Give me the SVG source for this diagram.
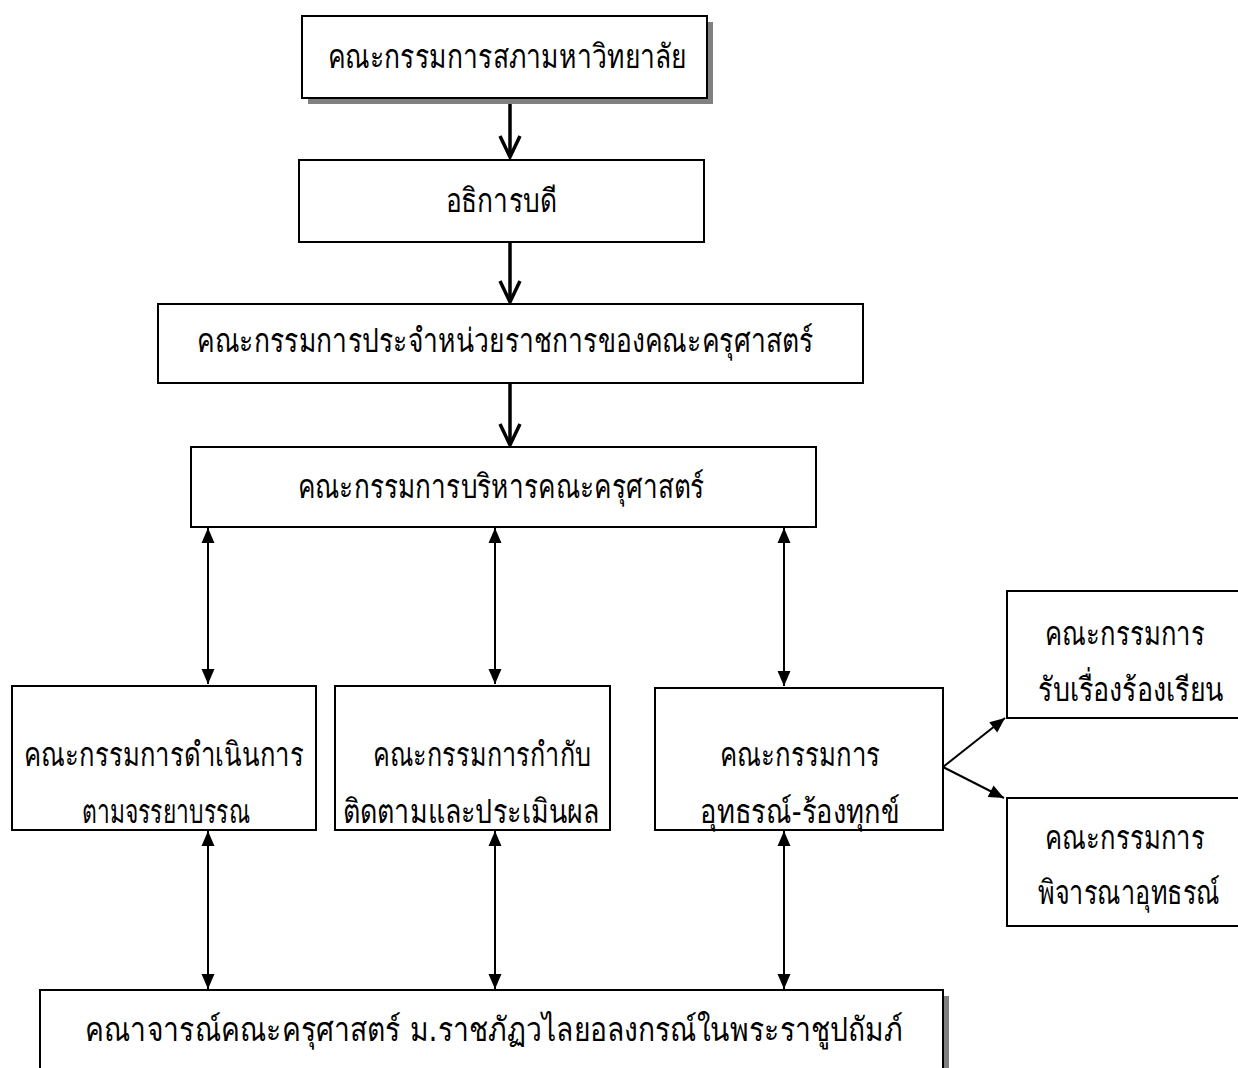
<svg xmlns="http://www.w3.org/2000/svg" width="1238" height="1068" viewBox="0 0 1238 1068">
<style>
.box{fill:#fff;stroke:#000;stroke-width:2}
.shadow{fill:#808080}
.t{font-family:"DejaVu Sans","Noto Sans",serif;font-size:33px;fill:#000;text-anchor:middle}
.e{text-anchor:end}
.thick{stroke:#000;stroke-width:3.5;fill:none}
.thin{stroke:#000;stroke-width:2;fill:none}
</style>
<defs>
<marker id="vopen" markerUnits="userSpaceOnUse" orient="auto" refX="0" refY="0" markerWidth="30" markerHeight="30" overflow="visible">
<path d="M-21,-10 L0,0 L-21,10" fill="none" stroke="#000" stroke-width="3.5"/>
</marker>
<marker id="tri" markerUnits="userSpaceOnUse" orient="auto-start-reverse" refX="0" refY="0" markerWidth="20" markerHeight="20" overflow="visible">
<path d="M0,0 L-15,-6.5 L-15,6.5 Z" fill="#000"/>
</marker>
</defs>
<rect width="1238" height="1068" fill="#fff"/>

<g id="connectors">
<line class="thick" x1="510" y1="98" x2="510" y2="157" marker-end="url(#vopen)"/>
<line class="thick" x1="510" y1="242" x2="510" y2="302" marker-end="url(#vopen)"/>
<line class="thick" x1="510" y1="383" x2="510" y2="445" marker-end="url(#vopen)"/>
<line class="thin" x1="208" y1="528" x2="208" y2="684" marker-start="url(#tri)" marker-end="url(#tri)"/>
<line class="thin" x1="495" y1="528" x2="495" y2="684" marker-start="url(#tri)" marker-end="url(#tri)"/>
<line class="thin" x1="784" y1="528" x2="784" y2="686" marker-start="url(#tri)" marker-end="url(#tri)"/>
<line class="thin" x1="208" y1="831" x2="208" y2="989" marker-start="url(#tri)" marker-end="url(#tri)"/>
<line class="thin" x1="495" y1="831" x2="495" y2="989" marker-start="url(#tri)" marker-end="url(#tri)"/>
<line class="thin" x1="784" y1="831" x2="784" y2="989" marker-start="url(#tri)" marker-end="url(#tri)"/>
<line class="thin" x1="943" y1="767" x2="1005" y2="718" marker-end="url(#tri)"/>
<line class="thin" x1="943" y1="767" x2="1004" y2="798" marker-end="url(#tri)"/>
</g>

<g id="n1">
<rect class="shadow" x="308" y="22" width="405" height="82"/>
<rect class="box" x="302" y="16" width="405" height="82"/>
<text class="t" x="507" y="68" textLength="359" lengthAdjust="spacingAndGlyphs">คณะกรรมการสภามหาวิทยาลัย</text>
</g>
<g id="n2">
<rect class="box" x="299" y="160" width="405" height="82"/>
<text class="t" x="501" y="212" textLength="111" lengthAdjust="spacingAndGlyphs">อธิการบดี</text>
</g>
<g id="n3">
<rect class="box" x="158" y="304" width="705" height="79"/>
<text class="t" x="505" y="352" textLength="616" lengthAdjust="spacingAndGlyphs">คณะกรรมการประจำหน่วยราชการของคณะครุศาสตร์</text>
</g>
<g id="n4">
<rect class="box" x="191" y="447" width="625" height="80"/>
<text class="t" x="501" y="498" textLength="407" lengthAdjust="spacingAndGlyphs">คณะกรรมการบริหารคณะครุศาสตร์</text>
</g>
<g id="n5">
<rect class="box" x="12" y="686" width="304" height="144"/>
<text class="t" x="164" y="766" textLength="280" lengthAdjust="spacingAndGlyphs">คณะกรรมการดำเนินการ</text>
<text class="t" x="166" y="823" textLength="168" lengthAdjust="spacingAndGlyphs">ตามจรรยาบรรณ</text>
</g>
<g id="n6">
<rect class="box" x="335" y="686" width="275" height="144"/>
<text class="t" x="482" y="766" textLength="218" lengthAdjust="spacingAndGlyphs">คณะกรรมการกำกับ</text>
<text class="t" x="471" y="823" textLength="256" lengthAdjust="spacingAndGlyphs">ติดตามและประเมินผล</text>
</g>
<g id="n7">
<rect class="box" x="655" y="688" width="288" height="142"/>
<text class="t" x="800" y="766" textLength="161" lengthAdjust="spacingAndGlyphs">คณะกรรมการ</text>
<text class="t" x="800" y="823" textLength="200" lengthAdjust="spacingAndGlyphs">อุทธรณ์-ร้องทุกข์</text>
</g>
<g id="n8">
<path class="box" d="M1238,591 H1007 V718 H1238"/>
<text class="t e" x="1205" y="645" textLength="160" lengthAdjust="spacingAndGlyphs">คณะกรรมการ</text>
<text class="t e" x="1224" y="701" textLength="186" lengthAdjust="spacingAndGlyphs">รับเรื่องร้องเรียน</text>
</g>
<g id="n9">
<path class="box" d="M1238,798 H1007 V926 H1238"/>
<text class="t e" x="1205" y="849" textLength="160" lengthAdjust="spacingAndGlyphs">คณะกรรมการ</text>
<text class="t e" x="1220" y="904" textLength="182" lengthAdjust="spacingAndGlyphs">พิจารณาอุทธรณ์</text>
</g>
<g id="n10">
<rect class="shadow" x="943" y="996" width="6" height="72"/>
<path class="box" d="M40,1068 V990 H943 V1068"/>
<text class="t" x="494" y="1041" textLength="818" lengthAdjust="spacingAndGlyphs">คณาจารณ์คณะครุศาสตร์ ม.ราชภัฏวไลยอลงกรณ์ในพระราชูปถัมภ์</text>
</g>
</svg>
